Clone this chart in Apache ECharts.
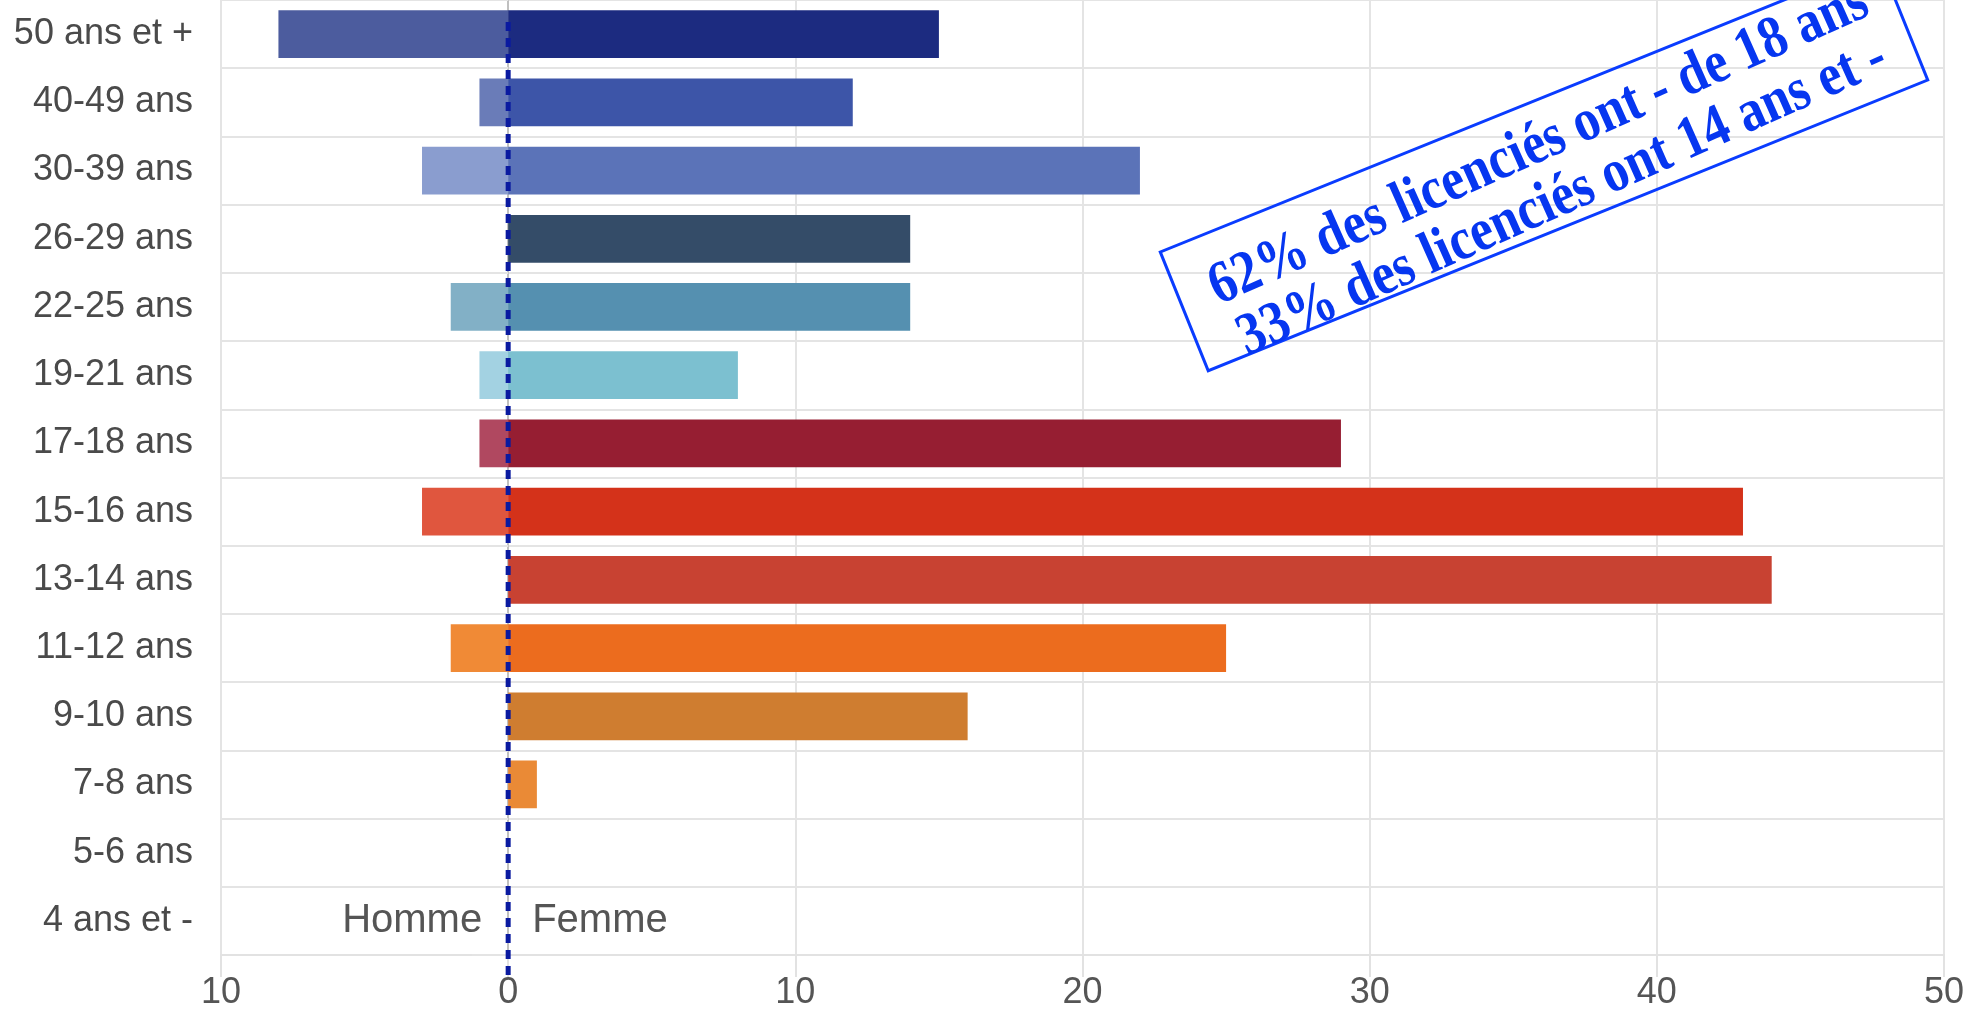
<!DOCTYPE html>
<html>
<head>
<meta charset="utf-8">
<script src="https://cdn.jsdelivr.net/npm/echarts@6/dist/echarts.min.js"></script>
<style>
html,body{margin:0;padding:0;background:#fff;}
#main{width:1981px;height:1015px;}
</style>
</head>
<body>
<div id="main"></div>
<script>
// Categories from bottom to top
const categories = ["4 ans et -", "5-6 ans", "7-8 ans", "9-10 ans", "11-12 ans", "13-14 ans", "15-16 ans", "17-18 ans", "19-21 ans", "22-25 ans", "26-29 ans", "30-39 ans", "40-49 ans", "50 ans et +"];
const homme = [0, 0, 0, 0, 2, 0, 3, 1, 1, 2, 0, 3, 1, 8];
const femme = [0, 0, 1, 16, 25, 44, 43, 29, 8, 14, 14, 22, 12, 15];
const hommeColors = ["#f0a060", "#f0a060", "#f09a50", "#e0954a", "#f08a36", "#d9604c", "#e0563e", "#b04860", "#a3d2e2", "#82b0c6", "#5a7088", "#8a9dcf", "#6a7cb8", "#4c5c9e"];
const femmeColors = ["#ea8a36", "#ea8a36", "#ea8a36", "#cf7d30", "#ec6c1e", "#c84232", "#d4321a", "#961e32", "#7cc0d0", "#5590b0", "#344c68", "#5b73b8", "#3d55a8", "#1c2b80"];
const xTicks = { min: -10, max: 50, interval: 10 };
const annotationLines = ["62% des licenciés ont - de 18 ans", "33% des licenciés ont 14 ans et -"];
const sexLabels = ["Homme", "Femme"];

const chart = echarts.init(document.getElementById('main'));
const font = '"Liberation Sans", Arial, Helvetica, sans-serif';

chart.setOption({
  animation: false,
  backgroundColor: '#ffffff',
  grid: { left: 221, right: 37, top: 0, bottom: 60, containLabel: false },
  xAxis: {
    type: 'value',
    min: xTicks.min, max: xTicks.max, interval: xTicks.interval,
    axisLine: { show: true, lineStyle: { color: '#e2e2e2', width: 2 } },
    axisTick: { show: true, length: 22, lineStyle: { color: '#e2e2e2', width: 2 } },
    splitLine: { show: true, lineStyle: { color: '#e4e4e4', width: 2 } },
    axisLabel: {
      margin: 20, color: '#555', fontSize: 36, fontFamily: font,
      formatter: v => String(Math.abs(v))
    }
  },
  yAxis: {
    type: 'category',
    data: categories,
    axisLine: { show: true, lineStyle: { color: '#c0c0c0', width: 2 } },
    axisTick: { show: true, length: 36, lineStyle: { color: '#e4e4e4', width: 2 } },
    splitLine: { show: true, lineStyle: { color: '#e4e4e4', width: 2 } },
    axisLabel: { margin: 28, color: '#4a4a4a', fontSize: 36, fontFamily: font }
  },
  series: [
    {
      name: 'Homme', type: 'bar', barWidth: '70%', barGap: '-100%',
      data: homme.map((v, i) => ({ value: -v, itemStyle: { color: hommeColors[i] } }))
    },
    {
      name: 'Femme', type: 'bar', barWidth: '70%', barGap: '-100%',
      data: femme.map((v, i) => ({ value: v, itemStyle: { color: femmeColors[i] } }))
    }
  ]
});

const x0 = chart.convertToPixel({ xAxisIndex: 0 }, 0);
const yLast = chart.convertToPixel({ yAxisIndex: 0 }, categories[0]);

chart.setOption({
  graphic: [
    {
      type: 'line', z: 100,
      shape: { x1: x0, y1: 22, x2: x0, y2: 976 },
      style: { stroke: '#0a1aa0', lineWidth: 5, lineDash: [9, 7] }
    },
    {
      type: 'text', z: 100,
      x: x0 - 26, y: yLast,
      style: { text: sexLabels[0], align: 'right', verticalAlign: 'middle', fill: '#555', font: '40px ' + font }
    },
    {
      type: 'text', z: 100,
      x: x0 + 24, y: yLast,
      style: { text: sexLabels[1], align: 'left', verticalAlign: 'middle', fill: '#555', font: '40px ' + font }
    },
    {
      type: 'group', z: 100,
      x: 1544, y: 166,
      rotation: 22 * Math.PI / 180,
      children: [
        {
          type: 'rect',
          shape: { x: -388, y: -64, width: 776, height: 128 },
          style: { fill: 'none', stroke: '#0a3cff', lineWidth: 3 }
        },
        {
          type: 'text',
          x: 4, y: 8,
          rotation: 2 * Math.PI / 180,
          scaleX: 0.86,
          style: {
            text: annotationLines.join('\n'),
            align: 'center', verticalAlign: 'middle',
            fill: '#0636f0',
            font: 'bold 60px "Liberation Serif", "Times New Roman", serif',
            lineHeight: 58
          }
        }
      ]
    }
  ]
});
</script>
</body>
</html>
